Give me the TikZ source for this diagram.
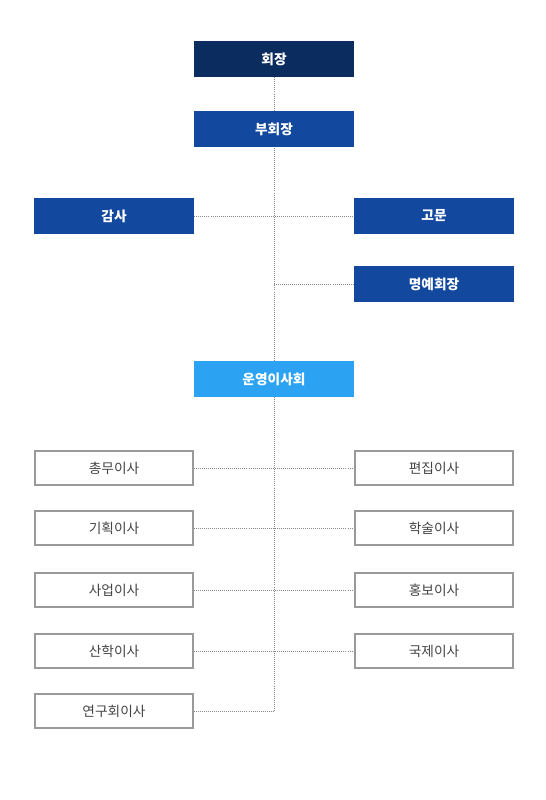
\documentclass[tikz,border=0pt]{standalone}
\usepackage{fontspec}
\setmainfont{Noto Sans CJK KR}
\usepackage{tikz}
\usetikzlibrary{positioning, backgrounds}
\definecolor{orgnavy}{HTML}{0B2C5E}
\definecolor{orgblue}{HTML}{12489E}
\definecolor{orgsky}{HTML}{2CA3F2}
\definecolor{orgline}{HTML}{8A8A8A}
\definecolor{orgborder}{HTML}{9A9A9A}
\definecolor{orgtext}{HTML}{444444}

\begin{document}
\begin{tikzpicture}[
  x=0.02cm, y=-0.02cm,
  every node/.style={font=\fontsize{7.8}{9}\selectfont},
  solidbox/.style={fill=orgblue, text=white, font=\fontsize{7.8}{9}\selectfont\bfseries,
                   minimum width=3.2cm, minimum height=0.72cm, inner sep=0pt},
  linebox/.style={draw=orgborder, line width=1.1pt, fill=white, text=orgtext,
                  minimum width=3.16cm, minimum height=0.68cm, inner sep=0pt},
  link/.style={draw=orgline, line width=0.55pt, dash pattern=on 0.55pt off 0.6pt}
]
\useasboundingbox (0,0) rectangle (545,800);

\node[solidbox, fill=orgnavy] (hoejang) at (274,59) {회장};
\node[solidbox] (buhoejang) at (274,129) {부회장};
\node[solidbox] (gamsa) at (114,216) {감사};
\node[solidbox] (gomun) at (434,216) {고문};
\node[solidbox] (myeongye) at (434,284) {명예회장};
\node[solidbox, fill=orgsky] (unyeong) at (274,379) {운영이사회};

\node[linebox] (chongmu) at (114,468) {총무이사};
\node[linebox] (pyeonjip) at (434,468) {편집이사};
\node[linebox] (gihoek) at (114,528) {기획이사};
\node[linebox] (haksul) at (434,528) {학술이사};
\node[linebox] (saeop) at (114,590) {사업이사};
\node[linebox] (hongbo) at (434,590) {홍보이사};
\node[linebox] (sanhak) at (114,651) {산학이사};
\node[linebox] (gukje) at (434,651) {국제이사};
\node[linebox] (yeongu) at (114,711) {연구회이사};

\coordinate (trunkend) at (274,711);

\begin{scope}[on background layer]
\draw[link] (hoejang.south) -- (trunkend); \draw[link] (yeongu.east) -- (trunkend);
\draw[link] (gamsa.east) -- (gomun.west); \draw[link] (myeongye.west) -- (myeongye.west -| trunkend);
\draw[link] (chongmu.east) -- (pyeonjip.west); \draw[link] (gihoek.east) -- (haksul.west);
\draw[link] (saeop.east) -- (hongbo.west); \draw[link] (sanhak.east) -- (gukje.west);
\end{scope}

\end{tikzpicture}
\end{document}
